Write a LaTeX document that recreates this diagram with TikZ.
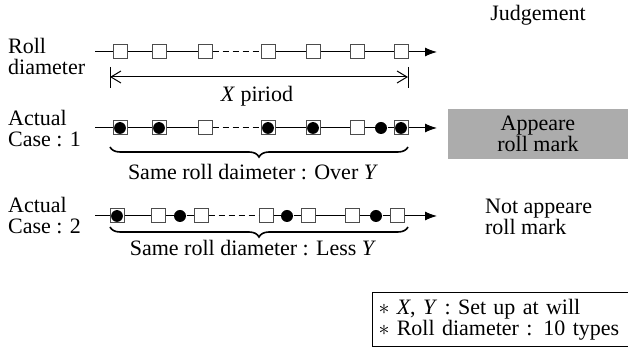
\documentclass[tikz,border=0pt]{standalone}
\usepackage{fontspec}
\setmainfont{Liberation Serif}
\usetikzlibrary{arrows.meta,decorations.pathreplacing}

\begin{document}
\begin{tikzpicture}[x=0.5pt, y=-0.5pt, line width=0.5pt,
    every node/.style={font=\fontsize{11}{10.5}\selectfont},
    sq/.style={rectangle, draw=black!70, fill=white, minimum size=7pt, inner sep=0pt},
    sqdot/.style={sq, path picture={\fill[black] (path picture bounding box.center) circle (2.95pt);}},
    dot/.style={circle, fill=black, minimum size=6pt, inner sep=0pt},
    tip/.style={-{Latex[length=6pt,width=4.5pt]}},
    barb/.style={{Straight Barb[length=5pt,width=6pt]}-{Straight Barb[length=5pt,width=6pt]}},
    brc/.style={decorate, decoration={brace, mirror, amplitude=5pt}, line width=0.8pt}]
    \useasboundingbox (0,0) rectangle (628,347);

    % Labels on the left
    \node[anchor=west, align=left] (lroll) at (1,56) {Roll\\diameter};
    \node[anchor=west, align=left] (lcase1) at (1,129) {Actual\\Case : 1};
    \node[anchor=west, align=left] (lcase2) at (1,216) {Actual\\Case : 2};
    \node (judge) at (538,15) {Judgement};

    % Row 1: roll diameter
    \coordinate (r1in) at (95,52);
    \coordinate (r1out) at (437,52);
    \foreach \i/\x in {1/120, 2/159, 3/205, 4/268, 5/313, 6/357, 7/401} {
        \node[sq] (r1n\i) at (\x,52) {};
    }
    \draw (r1in) -- (r1n1) -- (r1n2) -- (r1n3);
    \draw[dash pattern=on 3pt off 2pt] (r1n3) -- (r1n4);
    \draw (r1n4) -- (r1n5) -- (r1n6) -- (r1n7);
    \draw[tip] (r1n7) -- (r1out);

    % X period
    \coordinate (xl) at (110,77);
    \coordinate (xr) at (408,77);
    \draw (xl) ++(0,-10) -- ++(0,21);
    \draw (xr) ++(0,-10) -- ++(0,21);
    \draw[barb] (xl) -- (xr);
    \node (xper) at (257,96) {\textit{X} piriod};

    % Row 2: case 1
    \coordinate (r2in) at (95,128);
    \coordinate (r2out) at (437,128);
    \foreach \i/\x/\s in {1/120/sqdot, 2/159/sqdot, 3/205/sq, 4/268/sqdot,
                          5/313/sqdot, 6/357/sq, 7/381/dot, 8/401/sqdot} {
        \node[\s] (r2n\i) at (\x,128) {};
    }
    \draw (r2in) -- (r2n1) -- (r2n2) -- (r2n3);
    \draw[dash pattern=on 3pt off 2pt] (r2n3) -- (r2n4);
    \draw (r2n4) -- (r2n5) -- (r2n6) -- (r2n7) -- (r2n8);
    \draw[tip] (r2n8) -- (r2out);
    \coordinate (b1l) at (110,147);
    \coordinate (b1r) at (408,147);
    \draw[brc] (b1l) -- (b1r);
    \node (over) at (253,172) {Same roll daimeter : Over \textit{Y}};

    % Row 3: case 2
    \coordinate (r3in) at (95,216);
    \coordinate (r3out) at (437,216);
    \foreach \i/\x/\s in {1/117/sqdot, 2/158/sq, 3/180/dot, 4/201/sq, 5/266/sq,
                          6/287/dot, 7/308/sq, 8/352/sq, 9/376/dot, 10/397/sq} {
        \node[\s] (r3n\i) at (\x,216) {};
    }
    \draw (r3in) -- (r3n1) -- (r3n2) -- (r3n3) -- (r3n4);
    \draw[dash pattern=on 3pt off 2pt] (r3n4) -- (r3n5);
    \draw (r3n5) -- (r3n6) -- (r3n7) -- (r3n8) -- (r3n9) -- (r3n10);
    \draw[tip] (r3n10) -- (r3out);
    \coordinate (b2l) at (110,227);
    \coordinate (b2r) at (408,227);
    \draw[brc] (b2l) -- (b2r);
    \node (less) at (253,248) {Same roll diameter : Less \textit{Y}};

    % Judgement
    \node[fill=gray!65, minimum width=90pt, minimum height=24pt, align=center] (appear) at (538,134) {Appeare\\roll mark};
    \node[anchor=west, align=left] (notap) at (478,217) {Not appeare\\roll mark};

    % Note
    \node[draw, anchor=north west, align=left, text width=130pt, inner xsep=3pt,
          minimum height=25.5pt] (note) at (372,292)
        {$\ast$ \textit{X}, \textit{Y} : Set up at will\\$\ast$ Roll diameter : 10 types};
\end{tikzpicture}
\end{document}
